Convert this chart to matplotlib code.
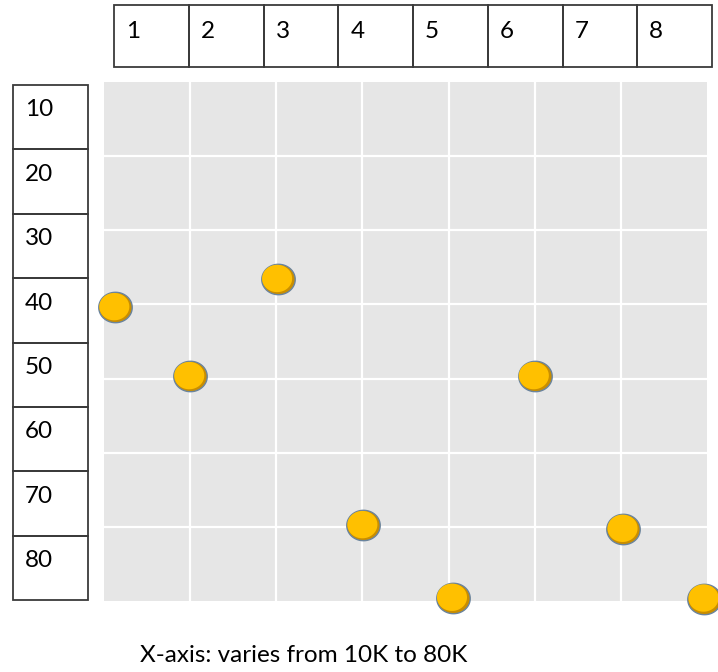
import matplotlib
matplotlib.use("Agg")
import matplotlib.pyplot as plt
from matplotlib.patches import Rectangle
import numpy as np

plt.rcParams['font.family'] = ['Lato', 'DejaVu Sans']

# Data (grid units: x 0..70 -> 10K..80K, y 0..70)
x_vals = [1.3, 10.0, 20.2, 30.1, 40.5, 50.0, 60.3, 69.7]
y_vals = [39.6, 30.3, 43.4, 10.2, 0.4, 30.3, 9.7, 0.3]
top_labels = ['1', '2', '3', '4', '5', '6', '7', '8']
left_labels = ['10', '20', '30', '40', '50', '60', '70', '80']
caption = 'X-axis: varies from 10K to 80K'

W, H = 718, 672
fig = plt.figure(figsize=(W / 100, H / 100), dpi=100)

def fx(px):
    return px / W

def fy(py):
    return 1 - py / H

ax = fig.add_axes([fx(104), fy(601), fx(707) - fx(104), fy(82) - fy(601)])
ax.set_facecolor('#E6E6E6')
ax.set_xlim(0, 70)
ax.set_ylim(0, 70)
ax.set_xticks(np.arange(10, 70, 10))
ax.set_yticks(np.arange(10, 70, 10))
ax.grid(True, color='white', linewidth=1.6)
ax.set_axisbelow(True)
ax.tick_params(length=0, labelbottom=False, labelleft=False)
for s in ax.spines.values():
    s.set_visible(False)

# Ellipse-like marker with subtle shading
t = np.linspace(0, 2 * np.pi, 80)
ell = np.column_stack([1.1 * np.cos(t), np.sin(t)])
s_base = 580
ax.scatter(x_vals, y_vals, s=s_base, marker=ell, c='#C98E00',
           edgecolors='#6A849E', linewidths=1.0, clip_on=False, zorder=3)
hl = 0.9 * ell + np.array([-0.06, 0.05])
m_h = np.abs(hl).max()
ax.scatter(x_vals, y_vals, s=s_base * (m_h / 1.1) ** 2, marker=hl, c='#FFC000',
           edgecolors='none', clip_on=False, zorder=4)

# Top table
lc = '#3A3A3A'
top_edges = np.linspace(114, 712, len(top_labels) + 1)
for i, lab in enumerate(top_labels):
    x0, x1 = top_edges[i], top_edges[i + 1]
    fig.add_artist(Rectangle((fx(x0), fy(67)), fx(x1) - fx(x0), fy(5) - fy(67),
                             transform=fig.transFigure, fill=False,
                             edgecolor=lc, linewidth=1.3))
    fig.text(fx(x0 + 12), fy(31), lab, ha='left', va='center', fontsize=17.5,
             color='black')

# Left table
left_edges = np.linspace(85, 600, len(left_labels) + 1)
for i, lab in enumerate(left_labels):
    y0, y1 = left_edges[i], left_edges[i + 1]
    fig.add_artist(Rectangle((fx(13), fy(y1)), fx(88) - fx(13), fy(y0) - fy(y1),
                             transform=fig.transFigure, fill=False,
                             edgecolor=lc, linewidth=1.3))
    fig.text(fx(25), fy(y0 + 25), lab, ha='left', va='center', fontsize=17.5,
             color='black')

fig.text(fx(140), fy(656), caption, ha='left', va='center', fontsize=17.5,
         color='black')

fig.savefig('out.png', dpi=100)
